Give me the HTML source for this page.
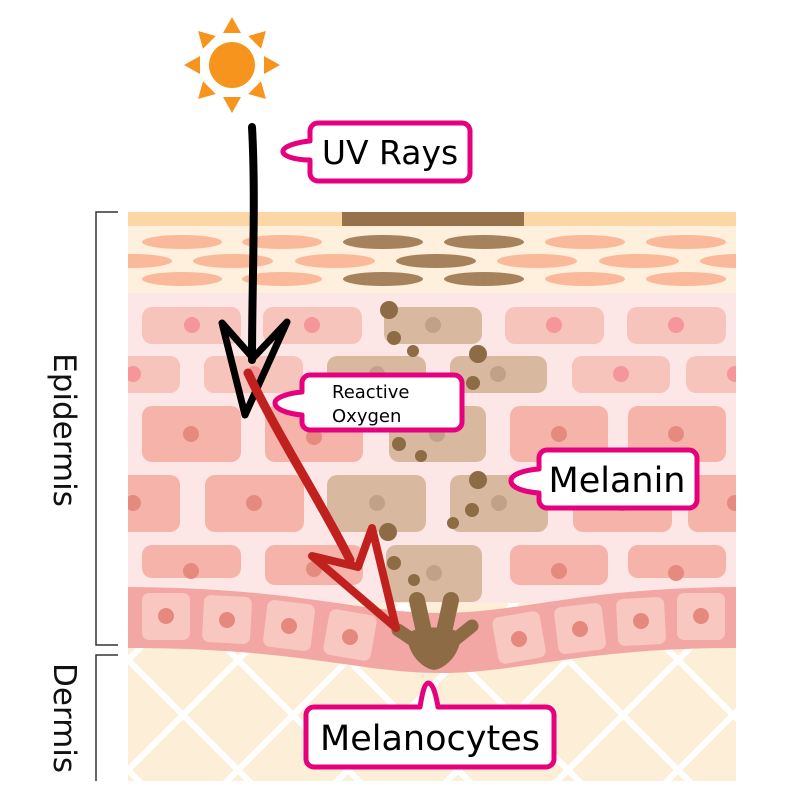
<!DOCTYPE html>
<html><head><meta charset="utf-8"><style>
html,body{margin:0;padding:0;background:#fff;}
svg{display:block;}
text{font-family:"DejaVu Sans","Liberation Sans",sans-serif;}
</style></head><body>
<svg width="800" height="792" viewBox="0 0 800 792" xmlns="http://www.w3.org/2000/svg">
<defs>
<pattern id="hatch" width="110" height="110" patternUnits="userSpaceOnUse" patternTransform="translate(128,660)">
<path d="M-10,-10 L120,120 M120,-10 L-10,120 M-10,100 L10,120 M100,-10 L120,10 M-10,10 L10,-10 M100,120 L120,100" stroke="#fff" stroke-width="6"/>
</pattern>
<clipPath id="skin"><rect x="128" y="212" width="608" height="569"/></clipPath>
</defs>
<g clip-path="url(#skin)">
<rect x="128" y="600" width="608" height="181" fill="#fdeed8"/>
<rect x="128" y="600" width="608" height="181" fill="url(#hatch)"/>
<rect x="128" y="293" width="608" height="310" fill="#fde6e6"/>
<rect x="128" y="212" width="608" height="81" fill="#fef0dc"/>
<rect x="128" y="212" width="608" height="14" fill="#fbd7a5"/>
<rect x="342" y="212" width="182" height="14" fill="#97714a"/>
<g fill="#f9b99a">
<ellipse cx="182" cy="242" rx="40" ry="7"/><ellipse cx="282" cy="242" rx="40" ry="7"/>
<ellipse cx="585" cy="242" rx="40" ry="7"/><ellipse cx="686" cy="242" rx="40" ry="7"/>
<ellipse cx="132" cy="261" rx="40" ry="7"/><ellipse cx="233" cy="261" rx="40" ry="7"/><ellipse cx="335" cy="261" rx="40" ry="7"/>
<ellipse cx="537" cy="261" rx="40" ry="7"/><ellipse cx="639" cy="261" rx="40" ry="7"/><ellipse cx="740" cy="261" rx="40" ry="7"/>
<ellipse cx="182" cy="279" rx="40" ry="7"/><ellipse cx="282" cy="279" rx="40" ry="7"/>
<ellipse cx="585" cy="279" rx="40" ry="7"/><ellipse cx="686" cy="279" rx="40" ry="7"/>
</g>
<g fill="#a6825c">
<ellipse cx="383" cy="242" rx="40" ry="7"/><ellipse cx="484" cy="242" rx="40" ry="7"/>
<ellipse cx="436" cy="261" rx="40" ry="7"/>
<ellipse cx="383" cy="279" rx="40" ry="7"/><ellipse cx="484" cy="279" rx="40" ry="7"/>
</g>
<g fill="#f7c4bb">
<rect x="142" y="307" width="99" height="37" rx="10"/><rect x="263" y="307" width="99" height="37" rx="10"/>
<rect x="505" y="307" width="99" height="37" rx="10"/><rect x="627" y="307" width="99" height="37" rx="10"/>
<rect x="100" y="356" width="80" height="37" rx="10"/><rect x="204" y="356" width="99" height="37" rx="10"/>
<rect x="572" y="356" width="98" height="37" rx="10"/><rect x="686" y="356" width="99" height="37" rx="10"/>
</g>
<g fill="#f4969a">
<circle cx="192" cy="325" r="8"/><circle cx="312" cy="325" r="8"/><circle cx="554" cy="325" r="8"/><circle cx="676" cy="325" r="8"/>
<circle cx="133" cy="374" r="8"/><circle cx="254" cy="374" r="8"/><circle cx="621" cy="374" r="8"/><circle cx="735" cy="374" r="8"/>
</g>
<g fill="#f5b3aa">
<rect x="142" y="406" width="99" height="56" rx="10"/><rect x="265" y="406" width="98" height="56" rx="10"/>
<rect x="510" y="406" width="98" height="56" rx="10"/><rect x="628" y="406" width="98" height="56" rx="10"/>
<rect x="100" y="475" width="80" height="57" rx="10"/><rect x="205" y="475" width="99" height="57" rx="10"/>
<rect x="573" y="475" width="99" height="57" rx="10"/><rect x="688" y="475" width="99" height="57" rx="10"/>
<rect x="142" y="545" width="99" height="33" rx="10"/><rect x="265" y="545" width="98" height="40" rx="10"/>
<rect x="510" y="545" width="98" height="40" rx="10"/><rect x="628" y="545" width="98" height="33" rx="10"/>
</g>
<g fill="#e58a7f">
<circle cx="191" cy="434" r="8"/><circle cx="314" cy="437" r="8"/><circle cx="559" cy="434" r="8"/><circle cx="676" cy="434" r="8"/>
<circle cx="133" cy="503" r="8"/><circle cx="254" cy="503" r="8"/><circle cx="622" cy="503" r="8"/><circle cx="735" cy="503" r="8"/>
<circle cx="191" cy="571" r="8"/><circle cx="314" cy="569" r="8"/><circle cx="559" cy="571" r="8"/><circle cx="676" cy="573" r="8"/>
</g>
<g fill="#d8b9a0">
<rect x="384" y="307" width="98" height="37" rx="10"/>
<rect x="327" y="356" width="99" height="37" rx="10"/><rect x="450" y="356" width="97" height="37" rx="10"/>
<rect x="389" y="406" width="97" height="56" rx="10"/>
<rect x="327" y="475" width="99" height="57" rx="10"/><rect x="450" y="475" width="98" height="57" rx="10"/>
<rect x="386" y="545" width="96" height="57" rx="10"/>
</g>
<g fill="#c3a088">
<circle cx="433" cy="325" r="8"/><circle cx="377" cy="374" r="8"/><circle cx="498" cy="374" r="8"/>
<circle cx="437" cy="434" r="8"/><circle cx="377" cy="503" r="8"/><circle cx="499" cy="503" r="8"/><circle cx="434" cy="573" r="8"/>
</g>
<path d="M128,587 C300,588 360,613 440,613 C520,613 580,588 736,587 V648 C580,648 520,673 440,673 C360,673 300,648 128,648Z" fill="#f2a7a5"/>
<g fill="#f8c8c0">
<rect x="142" y="593" width="48" height="47" rx="7"/>
<rect x="203" y="596" width="48" height="47" rx="7" transform="rotate(3 227 620)"/>
<rect x="265" y="602" width="48" height="47" rx="7" transform="rotate(7 289 626)"/>
<rect x="326" y="612" width="48" height="46" rx="7" transform="rotate(10 350 635)"/>
<rect x="495" y="614" width="48" height="47" rx="7" transform="rotate(-10 519 637)"/>
<rect x="556" y="605" width="48" height="47" rx="7" transform="rotate(-7 580 628)"/>
<rect x="617" y="598" width="48" height="47" rx="7" transform="rotate(-3 641 621)"/>
<rect x="677" y="593" width="48" height="47" rx="7"/>
</g>
<g fill="#e5897e">
<circle cx="166" cy="616" r="8"/><circle cx="227" cy="620" r="8"/><circle cx="289" cy="626" r="8"/><circle cx="350" cy="637" r="8"/>
<circle cx="519" cy="639" r="8"/><circle cx="580" cy="629" r="8"/><circle cx="641" cy="621" r="8"/><circle cx="701" cy="616" r="8"/>
</g>
<g fill="#8c6b45" stroke="#8c6b45" stroke-linecap="round">
<path d="M408,635 C410,625 458,625 460,635 C462,650 448,668 434,670 C420,668 406,650 408,635Z" stroke="none"/>
<line x1="417" y1="600" x2="424" y2="632" stroke-width="16"/>
<line x1="451" y1="600" x2="444" y2="632" stroke-width="16"/>
<line x1="398" y1="630" x2="416" y2="642" stroke-width="13"/>
<line x1="472" y1="626" x2="452" y2="642" stroke-width="13"/>
</g>
<g fill="#8c6b45">
<circle cx="389" cy="310" r="9"/><circle cx="394" cy="338" r="7"/><circle cx="413" cy="351" r="6"/>
<circle cx="478" cy="354" r="9"/><circle cx="473" cy="383" r="7"/>
<circle cx="399" cy="444" r="7"/><circle cx="421" cy="456" r="6"/>
<circle cx="478" cy="480" r="9"/><circle cx="472" cy="510" r="7"/><circle cx="453" cy="523" r="6"/>
<circle cx="388" cy="532" r="9"/><circle cx="394" cy="563" r="7"/><circle cx="414" cy="580" r="6"/>
</g>
</g>
<g fill="none" stroke="#333" stroke-width="1.5">
<path d="M118,212 H96 V645 H118"/>
<path d="M118,655 H96 V781"/>
</g>
<text transform="translate(54,430) rotate(90)" font-size="31" text-anchor="middle" fill="#111">Epidermis</text>
<text transform="translate(54,718) rotate(90)" font-size="31" text-anchor="middle" fill="#111">Dermis</text>
<g fill="#f7941d">
<circle cx="232" cy="65" r="23"/>
<g id="ray"><polygon points="232,17 223,33 241,33"/></g>
<use href="#ray" transform="rotate(45 232 65)"/><use href="#ray" transform="rotate(90 232 65)"/>
<use href="#ray" transform="rotate(135 232 65)"/><use href="#ray" transform="rotate(180 232 65)"/>
<use href="#ray" transform="rotate(225 232 65)"/><use href="#ray" transform="rotate(270 232 65)"/>
<use href="#ray" transform="rotate(315 232 65)"/>
</g>
<path d="M252,127 C256,200 252,280 252,360" fill="none" stroke="#000" stroke-width="8" stroke-linecap="round"/>
<polygon points="222,323 253,358 287,322 245,415" fill="none" stroke="#000" stroke-width="7" stroke-linejoin="round"/>
<path d="M248,373 C280,440 320,500 350,560" fill="none" stroke="#c0211f" stroke-width="9" stroke-linecap="round"/>
<polygon points="312,556 358,567 372,528 396,628" fill="none" stroke="#c0211f" stroke-width="8" stroke-linejoin="round"/>
<g fill="#fff" stroke="#e6007e" stroke-width="5" stroke-linejoin="round">
<path d="M318,123 H462 a8,8 0 0 1 8,8 V173 a8,8 0 0 1 -8,8 H318 a8,8 0 0 1 -8,-8 V160 C295,160 282,156 283,151 C284,146 298,142 310,141 V131 a8,8 0 0 1 8,-8Z"/>
<path d="M310,375 H454 a8,8 0 0 1 8,8 V422 a8,8 0 0 1 -8,8 H310 a8,8 0 0 1 -8,-8 V415 C290,414 275,410 275,403 C275,397 290,393 302,392 V383 a8,8 0 0 1 8,-8Z"/>
<path d="M547,450 H689 a8,8 0 0 1 8,8 V500 a8,8 0 0 1 -8,8 H547 a8,8 0 0 1 -8,-8 V493 C525,492 510,488 511,480 C512,474 525,470 539,469 V458 a8,8 0 0 1 8,-8Z"/>
<path d="M314,707 H420 C422,695 424,684 428,683 C433,683 436,695 438,707 H546 a8,8 0 0 1 8,8 V759 a8,8 0 0 1 -8,8 H314 a8,8 0 0 1 -8,-8 V715 a8,8 0 0 1 8,-8Z"/>
</g>
<g fill="#000">
<text x="390" y="164" font-size="33" text-anchor="middle">UV Rays</text>
<text x="332" y="398" font-size="18">Reactive</text>
<text x="332" y="422" font-size="18">Oxygen</text>
<text x="617" y="492" font-size="35" text-anchor="middle">Melanin</text>
<text x="430" y="750" font-size="35" text-anchor="middle">Melanocytes</text>
</g>
</svg>
</body></html>
